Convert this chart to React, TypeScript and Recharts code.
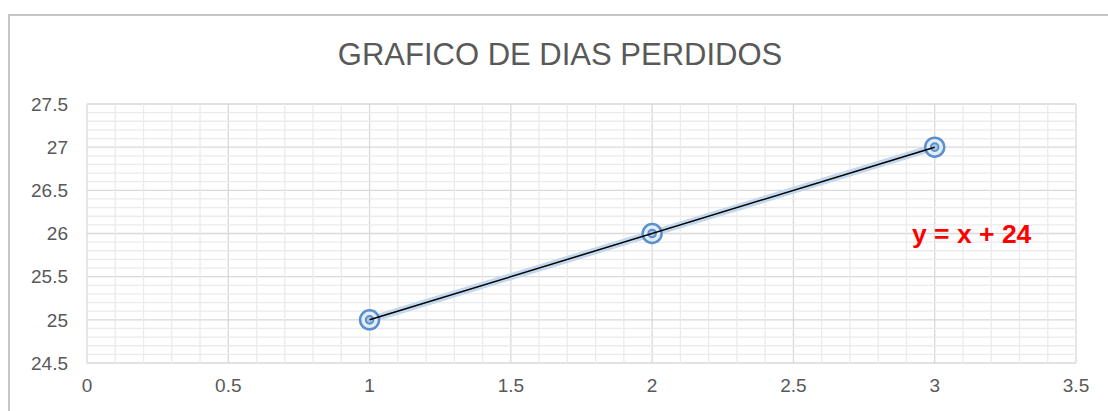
import { ReferenceLine, CartesianGrid, Scatter, ScatterChart, XAxis, YAxis } from "recharts";

const xTicks = [0, 0.5, 1, 1.5, 2, 2.5, 3, 3.5];
const yTicks = [24.5, 25, 25.5, 26, 26.5, 27, 27.5];
const daysX = [1, 2, 3];
const daysY = [25, 26, 27];

// minor gridlines every 0.1, skipping the major ones
const xMinor = Array.from({ length: 36 }, (_, i) => +(i * 0.1).toFixed(1)).filter((v) => !xTicks.includes(v));
const yMinor = Array.from({ length: 31 }, (_, i) => +(24.5 + i * 0.1).toFixed(1)).filter((v) => !yTicks.includes(v));

const points = daysX.map((x, i) => ({ x, y: daysY[i] }));

// least squares trendline over the data range
const n = daysX.length;
const mx = daysX.reduce((a, b) => a + b, 0) / n;
const my = daysY.reduce((a, b) => a + b, 0) / n;
const slope =
  daysX.reduce((s, x, i) => s + (x - mx) * (daysY[i] - my), 0) / daysX.reduce((s, x) => s + (x - mx) ** 2, 0);
const intercept = my - slope * mx;
const xMin = Math.min(...daysX);
const xMax = Math.max(...daysX);
const trend = [
  { x: xMin, y: slope * xMin + intercept },
  { x: xMax, y: slope * xMax + intercept },
];

const FONT = "'Liberation Sans', Arial, sans-serif";

function Marker(props: any) {
  const { cx, cy } = props;
  return (
    <g>
      <circle cx={cx} cy={cy} r={9.5} fill="#e3edf7" stroke="#5b8fce" strokeWidth={2.5} />
      <circle cx={cx} cy={cy} r={3.8} fill="#a9c6e6" stroke="#5b8fce" strokeWidth={2} />
    </g>
  );
}

export default function App() {
  return (
    <div style={{ position: "absolute", left: 0, top: 0, width: 1108, height: 411, overflow: "hidden", background: "#fff", fontFamily: FONT }}>
      <div style={{ position: "absolute", left: 8, top: 14, width: 1200, height: 500, borderTop: "2px solid #c6c6c6", borderLeft: "2px solid #c6c6c6" }} />
      <div style={{ position: "absolute", left: 60, top: 39, width: 1000, textAlign: "center", fontSize: 31, lineHeight: 1, color: "#595959" }}>
        GRAFICO DE DIAS PERDIDOS
      </div>
      <div style={{ position: "absolute", left: 0, top: 0 }}>
        <ScatterChart width={1108} height={411} margin={{ top: 104, right: 32, left: 27, bottom: 18 }}>
          <CartesianGrid stroke="#d9d9d9" strokeWidth={1.3} horizontalValues={yTicks} verticalValues={xTicks} />
          <XAxis
            type="number"
            dataKey="x"
            domain={[0, 3.5]}
            ticks={xTicks}
            axisLine={false}
            tickLine={false}
            tickSize={0}
            tickMargin={16}
            height={30}
            tick={{ fill: "#595959", fontSize: 19, fontFamily: FONT }}
            allowDataOverflow
          />
          <YAxis
            type="number"
            dataKey="y"
            domain={[24.5, 27.5]}
            ticks={yTicks}
            axisLine={false}
            tickLine={false}
            tickSize={0}
            tickMargin={19}
            width={60}
            tick={{ fill: "#595959", fontSize: 19, fontFamily: FONT }}
            allowDataOverflow
          />
          {xMinor.map((v) => (
            <ReferenceLine key={"vx" + v} x={v} stroke="#ebebeb" strokeWidth={1.3} />
          ))}
          {yMinor.map((v) => (
            <ReferenceLine key={"hy" + v} y={v} stroke="#ebebeb" strokeWidth={1.3} />
          ))}
          <Scatter
            data={points}
            line={{ stroke: "#c3d8ed", strokeWidth: 7 }}
            lineType="joint"
            shape={Marker}
            isAnimationActive={false}
          />
          <Scatter
            data={trend}
            line={{ stroke: "#000000", strokeWidth: 1.5 }}
            lineType="joint"
            shape={() => <g />}
            isAnimationActive={false}
          />
        </ScatterChart>
      </div>
      <div style={{ position: "absolute", left: 912, top: 221, fontSize: 26.5, lineHeight: 1, fontWeight: "bold", color: "#ff0000" }}>
        y = x + 24
      </div>
    </div>
  );
}
